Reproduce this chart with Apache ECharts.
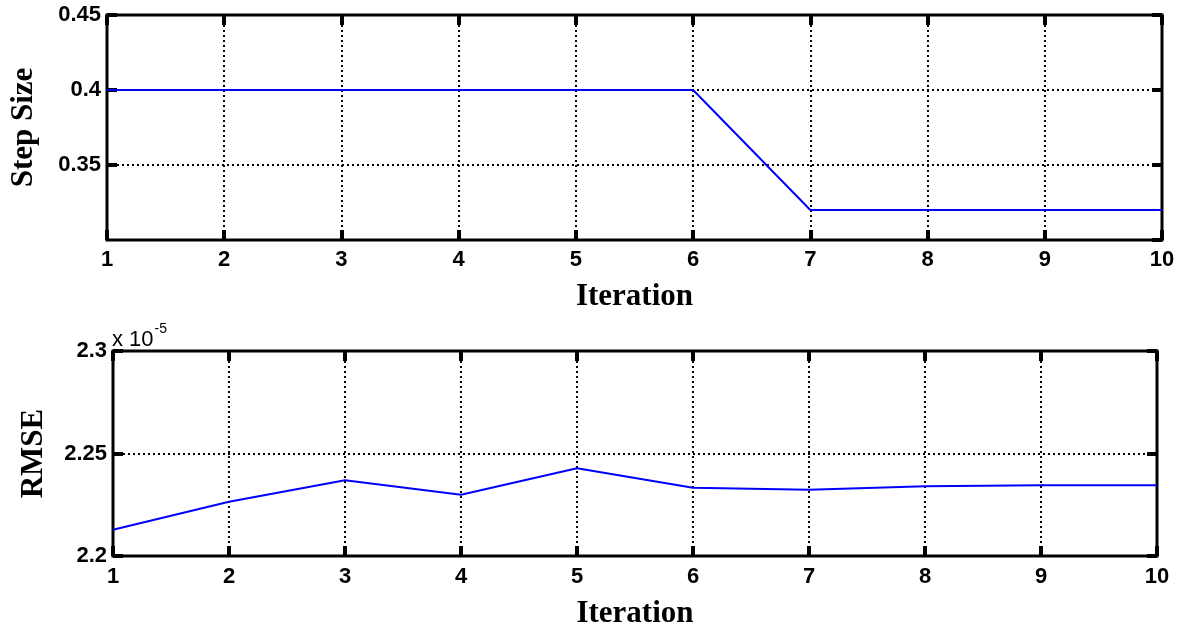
<!DOCTYPE html>
<html>
<head>
<meta charset="utf-8">
<script src="https://cdn.jsdelivr.net/npm/echarts@6/dist/echarts.min.js"></script>
<style>
  html, body { margin: 0; padding: 0; background: #ffffff; }
  #chart { width: 1184px; height: 630px; }
</style>
</head>
<body>
<div id="chart"></div>
<script>
// Iteration numbers shared by both panels
const iterations = [1, 2, 3, 4, 5, 6, 7, 8, 9, 10];
// Step size used at each iteration
const stepSize = [0.4, 0.4, 0.4, 0.4, 0.4, 0.4, 0.32, 0.32, 0.32, 0.32];
// RMSE at each iteration, in units of 1e-5
const rmse = [2.2128, 2.2265, 2.2369, 2.2299, 2.2428, 2.2333, 2.2323, 2.2340, 2.2345, 2.2345];

// Axis ranges and tick spacing
const xRange = { min: 1, max: 10, interval: 1 };
const stepRange = { min: 0.3, max: 0.45, interval: 0.05 };
const rmseRange = { min: 2.2, max: 2.3, interval: 0.05 };

const pairs = (xs, ys) => xs.map((x, i) => [x, ys[i]]);

const tickFont = { color: '#000', fontFamily: 'Liberation Sans, Arial, sans-serif', fontWeight: 'bold', fontSize: 22 };
const nameFont = { color: '#000', fontFamily: 'Liberation Serif, Times New Roman, serif', fontWeight: 'bold', fontSize: 31 };
const dotted = { color: '#000', width: 2, type: [2, 3] };
const tickStyle = { show: true, inside: true, length: 10, lineStyle: { color: '#000', width: 4 } };

function xMain(gridIndex, nameGap, margin) {
  return {
    type: 'value', gridIndex, position: 'bottom', ...xRange,
    name: 'Iteration', nameLocation: 'middle', nameGap, nameTextStyle: nameFont,
    axisLine: { show: false }, axisTick: tickStyle,
    axisLabel: { ...tickFont, margin },
    splitLine: { show: true, lineStyle: dotted }
  };
}
function xMirror(gridIndex) {
  return {
    type: 'value', gridIndex, position: 'top', ...xRange,
    axisLine: { show: false }, axisTick: tickStyle,
    axisLabel: { show: false }, splitLine: { show: false }
  };
}
function yMain(gridIndex, range, name, nameGap, showMin) {
  return {
    type: 'value', gridIndex, position: 'left', ...range,
    name, nameLocation: 'middle', nameGap, nameTextStyle: nameFont,
    axisLine: { show: false }, axisTick: tickStyle,
    axisLabel: { ...tickFont, margin: 6, showMinLabel: showMin },
    splitLine: { show: true, lineStyle: dotted }
  };
}
function yMirror(gridIndex, range) {
  return {
    type: 'value', gridIndex, position: 'right', ...range,
    axisLine: { show: false }, axisTick: tickStyle,
    axisLabel: { show: false }, splitLine: { show: false }
  };
}

const chart = echarts.init(document.getElementById('chart'), null, { renderer: 'canvas' });
chart.setOption({
  backgroundColor: '#ffffff',
  animation: false,
  grid: [
    { left: 107, top: 15, width: 1055, height: 225, show: true, borderColor: '#000', borderWidth: 3, backgroundColor: 'transparent' },
    { left: 113, top: 351, width: 1044, height: 206, show: true, borderColor: '#000', borderWidth: 3, backgroundColor: 'transparent' }
  ],
  xAxis: [xMain(0, 41, 9), xMirror(0), xMain(1, 42, 10), xMirror(1)],
  yAxis: [
    yMain(0, stepRange, 'Step Size', 68, false), yMirror(0, stepRange),
    yMain(1, rmseRange, 'RMSE', 64, true), yMirror(1, rmseRange)
  ],
  graphic: [
    {
      type: 'text', left: 112, top: 322,
      style: {
        text: '{a|x 10}{b|-5}',
        rich: {
          a: { fontFamily: 'Liberation Sans, Arial, sans-serif', fontSize: 22, fill: '#000', padding: [10, 0, 0, 0] },
          b: { fontFamily: 'Liberation Sans, Arial, sans-serif', fontSize: 14, fill: '#000', padding: [0, 0, 12, 1] }
        }
      }
    }
  ],
  series: [
    {
      type: 'line', xAxisIndex: 0, yAxisIndex: 0, data: pairs(iterations, stepSize),
      showSymbol: false, lineStyle: { color: '#0000ff', width: 2 }, z: 3
    },
    {
      type: 'line', xAxisIndex: 2, yAxisIndex: 2, data: pairs(iterations, rmse),
      showSymbol: false, lineStyle: { color: '#0000ff', width: 2 }, z: 3
    }
  ]
});
</script>
</body>
</html>
